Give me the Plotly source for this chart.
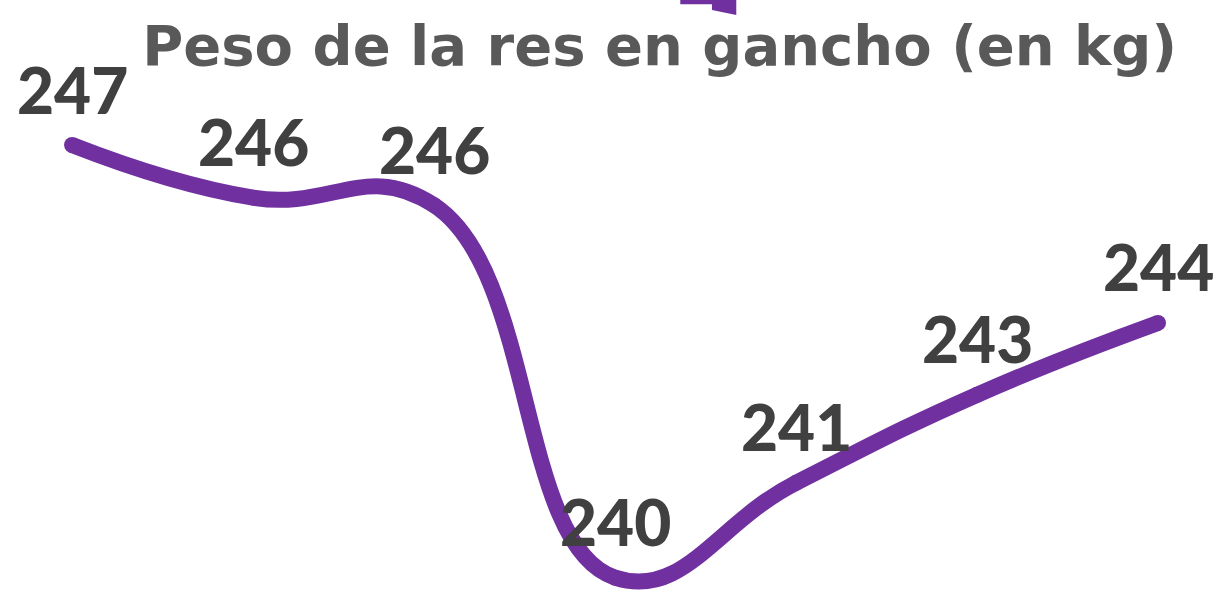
import plotly.graph_objects as go

categories = ["1", "2", "3", "4", "5", "6", "7"]
values = [247.0, 246.15, 246.03, 240.02, 241.55, 242.97, 244.13]
labels = ["247", "246", "246", "240", "241", "243", "244"]
title_text = "Peso de la res en gancho (en kg)"

x_idx = list(range(len(categories)))

fig = go.Figure()
fig.add_trace(go.Scatter(
    x=x_idx, y=values, mode="lines+markers",
    line=dict(color="#7030A0", width=16, shape="spline", smoothing=1.3),
    marker=dict(color="#7030A0", size=16, line=dict(width=0)),
    cliponaxis=False, hoverinfo="skip",
))

annotations = [
    dict(x=xi, y=v, xref="x", yref="y", text=lab, showarrow=False,
         xanchor="center", yanchor="middle", yshift=56,
         font=dict(family="Lato", size=64, color="#404040", weight=900))
    for xi, v, lab in zip(x_idx, values, labels)
]

fig.update_layout(
    width=1217, height=595,
    margin=dict(l=0, r=0, t=0, b=0),
    paper_bgcolor="white", plot_bgcolor="white",
    showlegend=False,
    xaxis=dict(range=[-0.398, 6.326], visible=False),
    yaxis=dict(range=[239.74, 249.34], visible=False),
    title=dict(text=title_text, x=0.542, xanchor="center", y=0.924, yanchor="middle",
               font=dict(family="DejaVu Sans", size=56, color="#595959", weight="bold")),
    annotations=annotations,
    shapes=[dict(type="path", xref="paper", yref="paper",
                 path="M 0.559 1 L 0.605 1 L 0.605 0.975 L 0.585 0.983 L 0.585 0.993 L 0.559 0.993 Z",
                 fillcolor="#7030A0", line=dict(width=0))],
)

fig.write_html("out.html", config={"displayModeBar": False},
               post_script="document.body.style.margin='0';document.body.style.padding='0';")
